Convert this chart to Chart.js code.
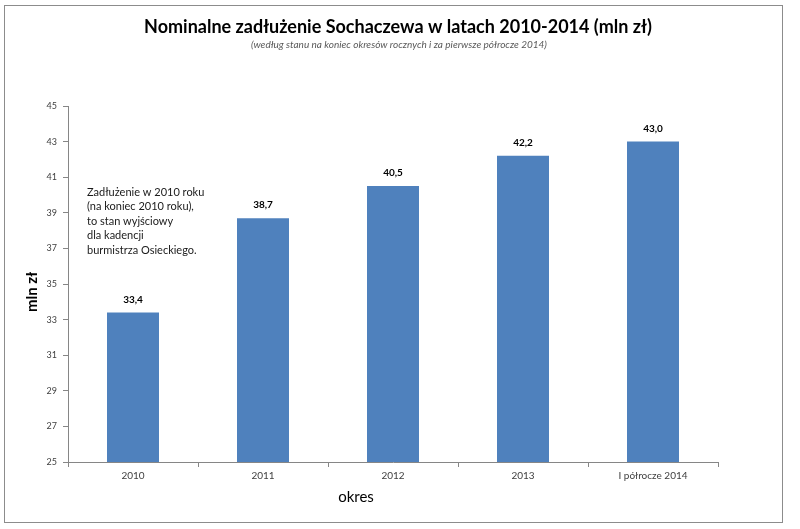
<!DOCTYPE html>
<html lang="pl">
<head>
  <meta charset="UTF-8">
  <title>Nominalne zadłużenie Sochaczewa</title>
  <script src="https://cdn.jsdelivr.net/npm/chart.js"></script>
  <style>
    body { margin: 0; background: #ffffff; }
    #wrap { width: 800px; height: 529px; }
  </style>
</head>
<body>
  <div id="wrap"><canvas id="debtChart" width="800" height="529"></canvas></div>

  <script>
    const categories = ['2010', '2011', '2012', '2013', 'I półrocze 2014'];
    const debtValues = [33.4, 38.7, 40.5, 42.2, 43.0];
    const yMin = 25;
    const yMax = 45;
    const yStep = 2;

    const titleText = 'Nominalne zadłużenie Sochaczewa w latach 2010-2014 (mln zł)';
    const subtitleText = '(według stanu na koniec okresów rocznych i za pierwsze półrocze 2014)';
    const noteLines = [
      'Zadłużenie w 2010 roku',
      '(na koniec 2010 roku),',
      'to stan wyjściowy',
      'dla kadencji',
      'burmistrza Osieckiego.'
    ];

    const fontFamily = 'Lato, "Open Sans", sans-serif';

    // frame, titles, note and value labels
    const extras = {
      id: 'extras',
      afterDraw(chart) {
        const ctx = chart.ctx;
        ctx.save();

        ctx.strokeStyle = '#8c8c8c';
        ctx.lineWidth = 1;
        ctx.strokeRect(4.5, 5.5, 778, 517);

        ctx.textAlign = 'center';
        ctx.textBaseline = 'middle';
        ctx.fillStyle = '#000000';
        ctx.font = 'bold 18px ' + fontFamily;
        ctx.fillText(titleText, 398, 27);

        ctx.fillStyle = '#595959';
        ctx.font = 'italic 10px ' + fontFamily;
        ctx.fillText(subtitleText, 399, 45);

        ctx.fillStyle = '#000000';
        ctx.font = '15px ' + fontFamily;
        ctx.fillText('okres', 356, 497);

        ctx.save();
        ctx.translate(32, 292);
        ctx.rotate(-Math.PI / 2);
        ctx.font = 'bold 15px ' + fontFamily;
        ctx.fillText('mln zł', 0, 0);
        ctx.restore();

        ctx.textAlign = 'left';
        ctx.font = '11px ' + fontFamily;
        ctx.fillStyle = '#1a1a1a';
        noteLines.forEach((line, i) => {
          ctx.fillText(line, 87, 192 + i * 14.5);
        });

        const meta = chart.getDatasetMeta(0);
        ctx.textAlign = 'center';
        ctx.font = 'bold 10px ' + fontFamily;
        ctx.fillStyle = '#000000';
        meta.data.forEach((bar, i) => {
          const label = debtValues[i].toFixed(1).replace('.', ',');
          ctx.fillText(label, bar.x, bar.y - 13);
        });

        ctx.restore();
      }
    };

    new Chart(document.getElementById('debtChart'), {
      type: 'bar',
      data: {
        labels: categories,
        datasets: [{
          data: debtValues,
          backgroundColor: '#4F81BD',
          borderWidth: 0,
          barPercentage: 0.4,
          categoryPercentage: 1.0
        }]
      },
      options: {
        responsive: false,
        animation: false,
        layout: { padding: { left: 0, right: 82, top: 106, bottom: 0 } },
        plugins: {
          legend: { display: false },
          title: { display: false },
          tooltip: { enabled: false }
        },
        scales: {
          x: {
            afterFit(scale) { scale.height = 67; },
            border: { color: '#868686', width: 1 },
            grid: { drawOnChartArea: false, drawTicks: true, tickLength: 5, color: '#868686', offset: true },
            ticks: { color: '#404040', font: { family: fontFamily, size: 10 }, padding: 3, maxRotation: 0 }
          },
          y: {
            min: yMin,
            max: yMax,
            afterFit(scale) { scale.width = 68; },
            border: { color: '#868686', width: 1 },
            grid: { drawOnChartArea: false, drawTicks: true, tickLength: 5, color: '#868686' },
            ticks: { stepSize: yStep, color: '#404040', font: { family: fontFamily, size: 9 }, padding: 6 }
          }
        }
      },
      plugins: [extras]
    });
  </script>
</body>
</html>
